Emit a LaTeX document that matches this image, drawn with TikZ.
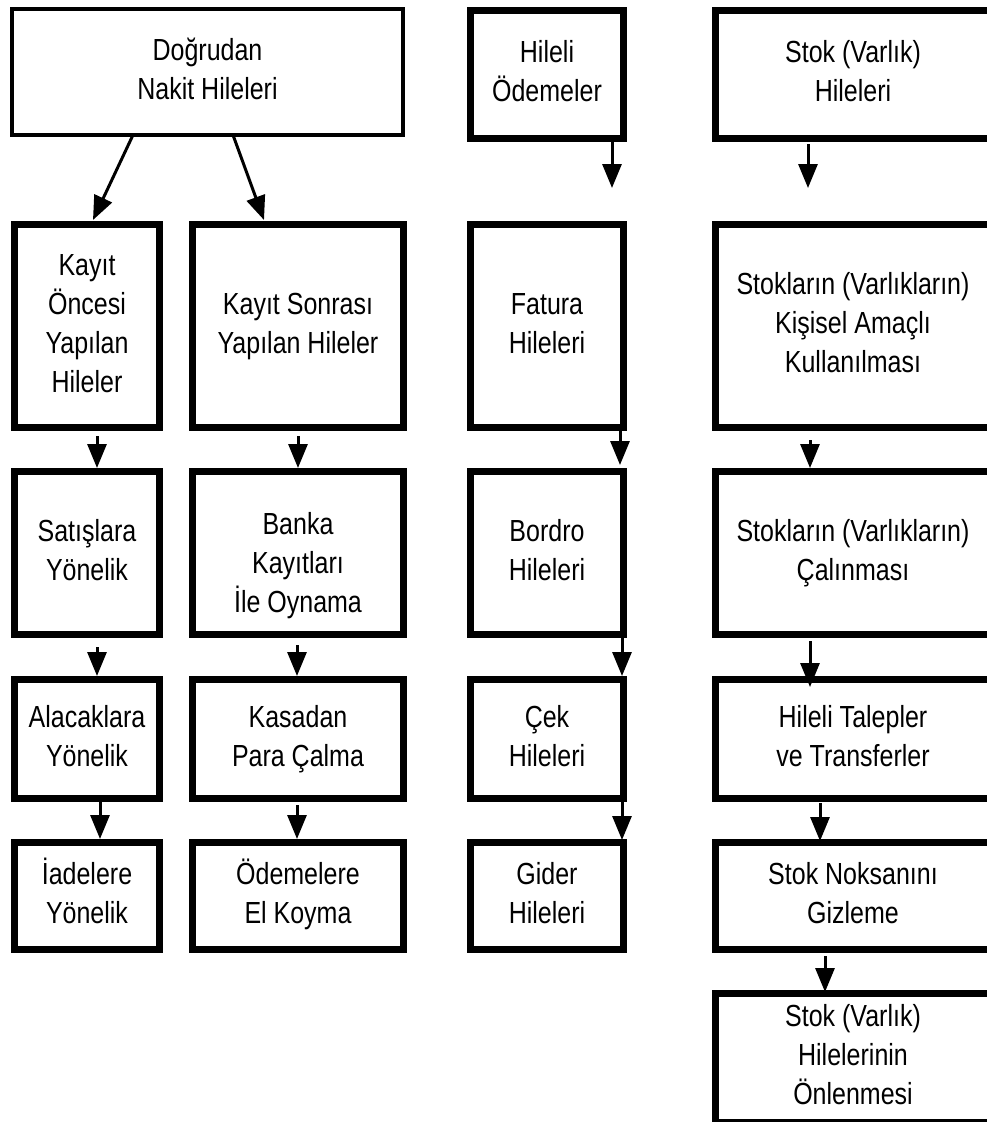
\documentclass[tikz,border=0pt]{standalone}
\usepackage{fontspec}
\setmainfont{Liberation Sans}
\usepackage{graphicx}
\usetikzlibrary{arrows.meta}
\newcommand\tx[1]{\scalebox{1}[1.22]{\fontsize{25}{32}\selectfont\begin{tabular}{@{}c@{}}#1\end{tabular}}}
\begin{document}
\begin{tikzpicture}[x=1pt,y=-1pt,
  box/.style={draw=black, line width=7pt, inner sep=0pt, anchor=center},
  cA/.style={minimum width=145pt},
  cB/.style={minimum width=211pt},
  cC/.style={minimum width=153pt},
  cD/.style={minimum width=275pt},
  rZ/.style={minimum height=128pt},
  rA/.style={minimum height=203pt},
  rB/.style={minimum height=163pt},
  rC/.style={minimum height=119pt},
  rD/.style={minimum height=107pt},
  rE/.style={minimum height=128.5pt},
  arr/.style={line width=3pt, -{Triangle[length=24pt,width=19pt]}}]
\useasboundingbox (0,0) rectangle (987,1122);
\clip (0,0) rectangle (987,1122);
% column 1 and 2
\node[box, line width=4pt, minimum width=391pt, minimum height=126pt] (tl) at (207.5,72) {\tx{Doğrudan\\Nakit Hileleri}};
\node[box,cA,rA] (k1) at (87,326) {\tx{Kayıt\\Öncesi\\Yapılan\\Hileler}};
\node[box,cB,rA] (k2) at (298,326) {\tx{Kayıt Sonrası\\Yapılan Hileler}};
\node[box,cA,rB] (s1) at (87,553) {\tx{Satışlara\\Yönelik}};
\node[box,cB,rB] (s2) at (298,553) {\tx{\\[-10.7pt]Banka\\Kayıtları\\İle Oynama}};
\node[box,cA,rC] (a1) at (87,739) {\tx{Alacaklara\\Yönelik}};
\node[box,cB,rC] (a2) at (298,739) {\tx{Kasadan\\Para Çalma}};
\node[box,cA,rD] (i1) at (87,896) {\tx{İadelere\\Yönelik}};
\node[box,cB,rD] (i2) at (298,896) {\tx{Ödemelere\\El Koyma}};
% column 3
\node[box,cC,rZ] (h0) at (547,74.5) {\tx{Hileli\\Ödemeler}};
\node[box,cC,rA] (h1) at (547,326) {\tx{Fatura\\Hileleri}};
\node[box,cC,rB] (h2) at (547,553) {\tx{Bordro\\Hileleri}};
\node[box,cC,rC] (h3) at (547,739) {\tx{Çek\\Hileleri}};
\node[box,cC,rD] (h4) at (547,896) {\tx{Gider\\Hileleri}};
% column 4
\node[box,cD,rZ] (d0) at (853,74.5) {\tx{Stok (Varlık)\\Hileleri}\hspace{34pt}};
\node[box,cD,rA] (d1) at (853,326) {\tx{Stokların (Varlıkların)\\Kişisel Amaçlı\\Kullanılması}};
\node[box,cD,rB] (d2) at (853,553) {\tx{Stokların (Varlıkların)\\Çalınması}};
\node[box,cD,rC] (d3) at (853,739) {\tx{Hileli Talepler\\ve Transferler}};
\node[box,cD,rD] (d4) at (853,896) {\tx{Stok Noksanını\\Gizleme}};
\node[box,cD,rE] (d5) at (853,1057.75) {\tx{Stok (Varlık)\\Hilelerinin\\Önlenmesi}};
% arrows from top box
\draw[arr] ([xshift=-74.5pt,yshift=2pt]tl.south) -- ([xshift=6pt,yshift=1pt]k1.north);
\draw[arr] ([xshift=25.5pt,yshift=2pt]tl.south) -- ([xshift=-34pt,yshift=1pt]k2.north);
% column 1
\draw[arr] ([xshift=10pt,yshift=-5pt]k1.south) -- ([xshift=10pt]s1.north);
\draw[arr] ([xshift=10pt,yshift=-9pt]s1.south) -- ([xshift=10pt]a1.north);
\draw[arr] ([xshift=13pt]a1.south) -- ([xshift=13pt]i1.north);
% column 2
\draw[arr] ([yshift=-5pt]k2.south) -- (s2.north);
\draw[arr] ([xshift=-1pt,yshift=-7pt]s2.south) -- ([xshift=-1pt]a2.north);
\draw[arr] ([xshift=-1pt,yshift=-3pt]a2.south) -- ([xshift=-1pt]i2.north);
% column 3
\draw[arr] ([xshift=65pt]h0.south) -- ([xshift=65pt,yshift=33pt]h1.north);
\draw[arr] ([xshift=73pt]h1.south) -- ([xshift=73pt,yshift=3pt]h2.north);
\draw[arr] ([xshift=75pt]h2.south) -- ([xshift=75pt]h3.north);
\draw[arr] ([xshift=75pt]h3.south) -- ([xshift=75pt,yshift=-1pt]h4.north);
% column 4
\draw[arr] ([xshift=-45pt,yshift=-2pt]d0.south) -- ([xshift=-45pt,yshift=33pt]d1.north);
\draw[arr] ([xshift=-43pt,yshift=-9pt]d1.south) -- ([xshift=-43pt]d2.north);
\draw[arr] ([xshift=-43pt,yshift=-3pt]d2.south) -- ([xshift=-43pt,yshift=-11pt]d3.north);
\draw[arr] ([xshift=-33pt,yshift=-1pt]d3.south) -- ([xshift=-33pt,yshift=-2pt]d4.north);
\draw[arr] ([xshift=-28pt,yshift=-3pt]d4.south) -- ([xshift=-28pt,yshift=-2pt]d5.north);
\end{tikzpicture}
\end{document}
